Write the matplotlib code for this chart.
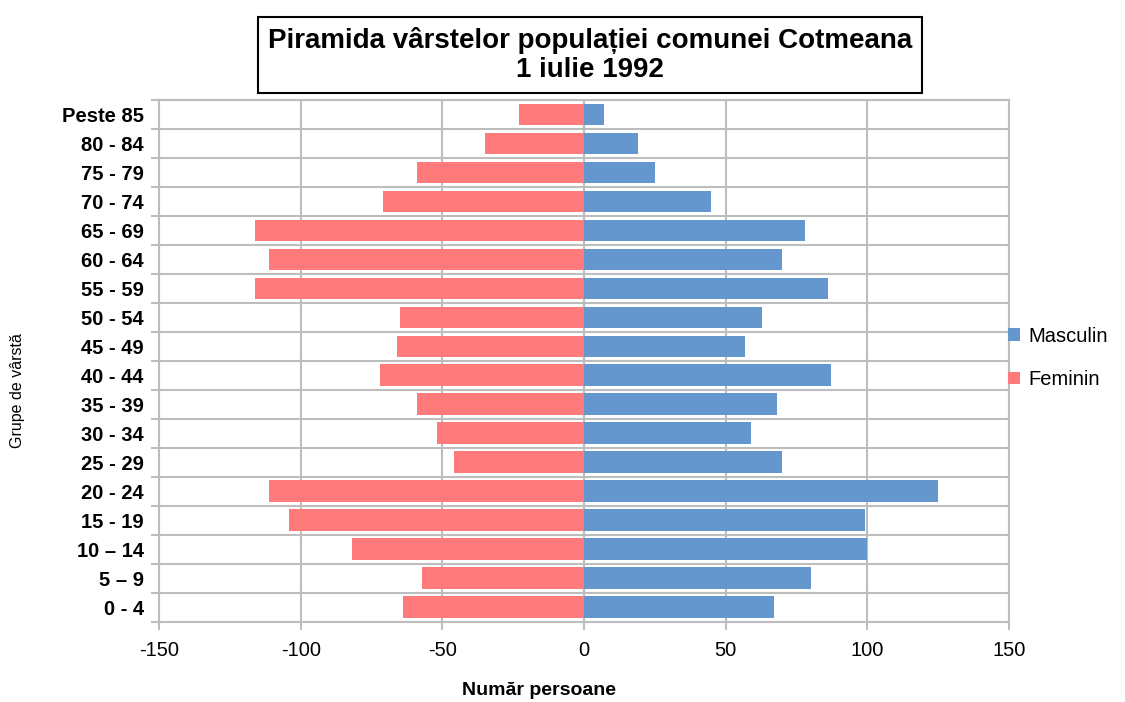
import matplotlib
matplotlib.use("Agg")
import matplotlib.pyplot as plt
import numpy as np

plt.rcParams['font.family'] = ['Liberation Sans', 'DejaVu Sans']

categories = ["0 - 4", "5 – 9", "10 – 14", "15 - 19", "20 - 24", "25 - 29", "30 - 34",
              "35 - 39", "40 - 44", "45 - 49", "50 - 54", "55 - 59", "60 - 64",
              "65 - 69", "70 - 74", "75 - 79", "80 - 84", "Peste 85"]
masculin = [67, 80, 100, 99, 125, 70, 59, 68, 87, 57, 63, 86, 70, 78, 45, 25, 19, 7]
feminin = [-64, -57, -82, -104, -111, -46, -52, -59, -72, -66, -65, -116, -111, -116, -71, -59, -35, -23]
xticks = [-150, -100, -50, 0, 50, 100, 150]

blue = '#6497CD'
pink = '#FF7B7B'
grid = '#BDBDBD'

fig = plt.figure(figsize=(11.25, 7.02), dpi=100)
ax = fig.add_axes([0.1413, 0.1144, 0.7556, 0.7431])

y = np.arange(len(categories))
ax.barh(y, masculin, height=0.75, color=blue, label='Masculin', zorder=3)
ax.barh(y, feminin, height=0.75, color=pink, label='Feminin', zorder=3)

ax.set_xlim(-150, 150)
ax.set_ylim(-0.5, len(categories) - 0.5)
ax.set_xticks(xticks)
ax.set_xticklabels([str(v) for v in xticks], fontsize=14.5)
ax.set_yticks(y)
ax.set_yticklabels(categories, fontsize=14.5, fontweight='bold')
ax.set_yticks(np.arange(-0.5, len(categories), 1), minor=True)
ax.tick_params(axis='y', which='major', length=0, pad=11)
ax.tick_params(axis='y', which='minor', length=6, color=grid, width=1.5)
ax.tick_params(axis='x', which='major', length=6, color=grid, width=1.5, pad=8)

ax.grid(True, axis='x', which='major', color=grid, linewidth=1.5, zorder=0)
ax.grid(True, axis='y', which='minor', color=grid, linewidth=1.5, zorder=0)
for s in ax.spines.values():
    s.set_color(grid)
    s.set_linewidth(1.5)

fig.text(0.016, 0.444, 'Grupe de vârstă', rotation=90, ha='center', va='center', fontsize=11.5)
fig.text(0.479, 0.017, 'Număr persoane', ha='center', va='center', fontsize=14, fontweight='bold')

fig.text(0.5244, 0.9217, 'Piramida vârstelor populației comunei Cotmeana\n1 iulie 1992',
         ha='center', va='center', fontsize=20, fontweight='bold', linespacing=1.12,
         bbox=dict(boxstyle='square,pad=0.36', facecolor='white', edgecolor='black', linewidth=1.5))

h, l = ax.get_legend_handles_labels()
leg = fig.legend(h, l, loc='center left', bbox_to_anchor=(0.88, 0.49), frameon=False,
                 fontsize=14.5, handlelength=0.6, handleheight=0.6, handletextpad=0.4,
                 labelspacing=1.2)

fig.savefig('out.png', dpi=100)
